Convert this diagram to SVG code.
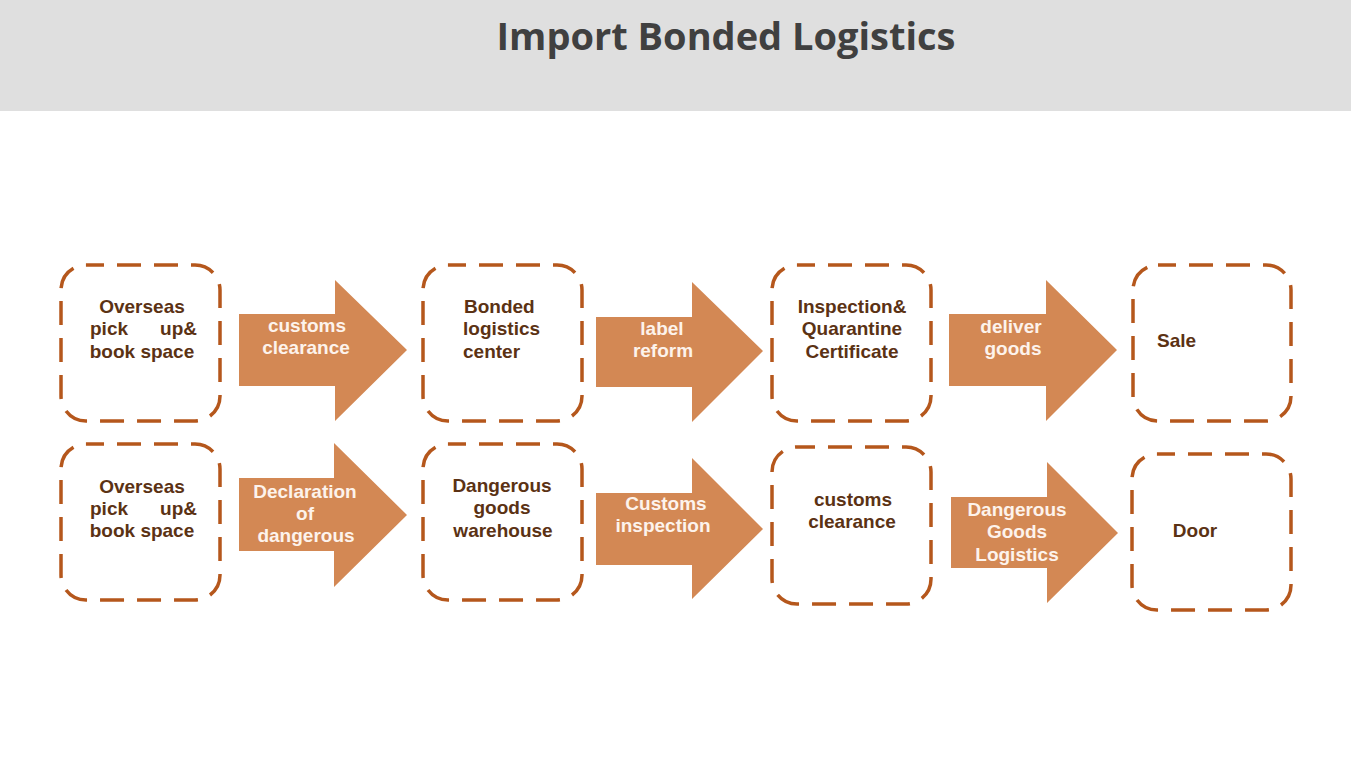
<svg xmlns="http://www.w3.org/2000/svg" width="1351" height="760" viewBox="0 0 1351 760">
<style>
.box{fill:#fff;stroke:#B5571C;stroke-width:3.5;stroke-dasharray:24 13;stroke-dashoffset:6}
.arrow{fill:#D38854}
.bt{font-family:"Liberation Sans",Arial,sans-serif;font-weight:700;font-size:19px;fill:#5B3214}
.at{font-family:"Liberation Sans",Arial,sans-serif;font-weight:700;font-size:19px;fill:#FDF3EC;text-anchor:middle}
.c{text-anchor:middle}
.title{font-family:"Open Sans","Liberation Sans",sans-serif;font-weight:700;font-size:38px;fill:#404040;text-anchor:middle}
</style>
<rect x="0" y="0" width="1351" height="111" fill="#DFDFDF"/>
<text class="title" x="726" y="50">Import Bonded Logistics</text>

<g id="connectors">
  <g id="a1"><polygon class="arrow" points="239,314 335,314 335,280 407,350 335,421 335,386 239,386"/>
    <text class="at" x="307" y="332">customs</text><text class="at" x="306" y="354">clearance</text></g>
  <g id="a2"><polygon class="arrow" points="596,317 692,317 692,282 763,351 692,422 692,387 596,387"/>
    <text class="at" x="662" y="335">label</text><text class="at" x="663" y="357">reform</text></g>
  <g id="a3"><polygon class="arrow" points="949,314 1046,314 1046,280 1117,350 1046,421 1046,386 949,386"/>
    <text class="at" x="1011" y="333">deliver</text><text class="at" x="1013" y="355">goods</text></g>
  <g id="a4"><polygon class="arrow" points="239,478 334,478 334,443 407,515 334,587 334,551 239,551"/>
    <text class="at" x="305" y="498">Declaration</text><text class="at" x="305" y="520">of</text><text class="at" x="306" y="542">dangerous</text></g>
  <g id="a5"><polygon class="arrow" points="596,493 692,493 692,458 763,529 692,599 692,565 596,565"/>
    <text class="at" x="666" y="510">Customs</text><text class="at" x="663" y="532">inspection</text></g>
  <g id="a6"><polygon class="arrow" points="951,497 1047,497 1047,462 1118,533 1047,603 1047,568 951,568"/>
    <text class="at" x="1017" y="516">Dangerous</text><text class="at" x="1017" y="538">Goods</text><text class="at" x="1017" y="561">Logistics</text></g>
</g>

<g id="n1">
  <rect class="box" x="61" y="265" width="159" height="156" rx="25"/>
  <text class="bt c" x="142" y="313">Overseas</text>
  <text class="bt" x="90" y="335">pick</text><text class="bt" x="197" y="335" text-anchor="end">up&amp;</text>
  <text class="bt c" x="142" y="358">book space</text>
</g>
<g id="n2">
  <rect class="box" x="423" y="265" width="159" height="156" rx="25"/>
  <text class="bt" x="464" y="313">Bonded</text>
  <text class="bt" x="463" y="335">logistics</text>
  <text class="bt" x="463" y="358">center</text>
</g>
<g id="n3">
  <rect class="box" x="772" y="265" width="159" height="156" rx="25"/>
  <text class="bt c" x="852" y="313">Inspection&amp;</text>
  <text class="bt c" x="852" y="335">Quarantine</text>
  <text class="bt c" x="852" y="358">Certificate</text>
</g>
<g id="n4">
  <rect class="box" x="1133" y="265" width="158" height="156" rx="25"/>
  <text class="bt" x="1157" y="347">Sale</text>
</g>
<g id="n5">
  <rect class="box" x="61" y="444" width="159" height="156" rx="25"/>
  <text class="bt c" x="142" y="493">Overseas</text>
  <text class="bt" x="90" y="515">pick</text><text class="bt" x="197" y="515" text-anchor="end">up&amp;</text>
  <text class="bt c" x="142" y="537">book space</text>
</g>
<g id="n6">
  <rect class="box" x="423" y="444" width="159" height="156" rx="25"/>
  <text class="bt c" x="502" y="492">Dangerous</text>
  <text class="bt c" x="502" y="514">goods</text>
  <text class="bt c" x="503" y="537">warehouse</text>
</g>
<g id="n7">
  <rect class="box" x="772" y="447" width="159" height="157" rx="25"/>
  <text class="bt c" x="853" y="506">customs</text>
  <text class="bt c" x="852" y="528">clearance</text>
</g>
<g id="n8">
  <rect class="box" x="1132" y="454" width="159" height="156" rx="25"/>
  <text class="bt c" x="1195" y="537">Door</text>
</g>
</svg>
